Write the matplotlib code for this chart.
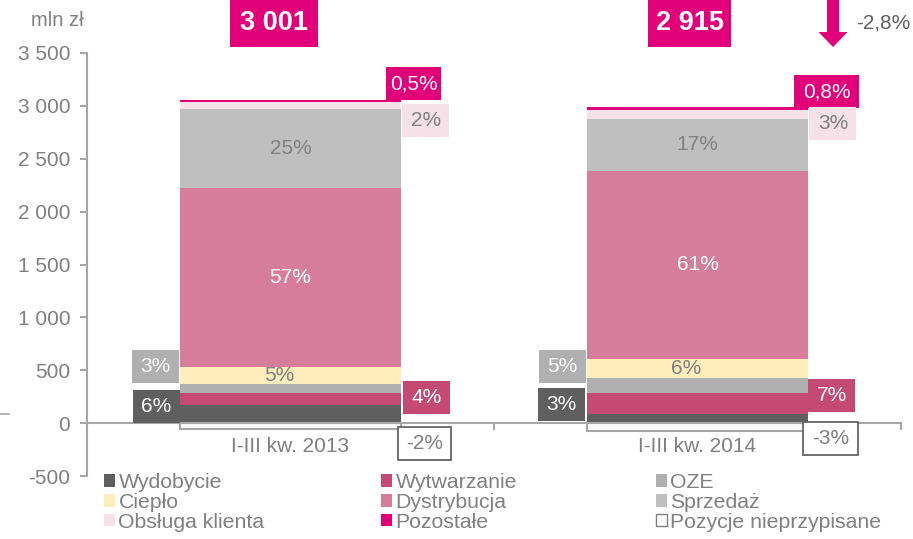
import matplotlib.pyplot as plt
from matplotlib.patches import FancyArrow, Patch
from matplotlib.lines import Line2D
from matplotlib.path import Path
from matplotlib.ticker import FuncFormatter
import numpy as np

plt.rcParams['font.family'] = ['Liberation Sans', 'DejaVu Sans']

# data (mln zł)
categories = ['I-III kw. 2013', 'I-III kw. 2014']
segments = ['Wydobycie', 'Wytwarzanie', 'OZE', 'Ciepło', 'Dystrybucja',
            'Sprzedaż', 'Obsługa klienta', 'Pozostałe']
wydobycie = [170, 85]
wytwarzanie = [115, 204]
oze = [85, 140]
cieplo = [165, 180]
dystrybucja = [1690, 1775]
sprzedaz = [747, 495]
obsluga = [69, 85]
pozostale = [19, 23]
nieprzypisane = [-59, -72]
totals = ['3 001', '2 915']
change = '-2,8%'
shares_2013 = ['6%', '4%', '3%', '5%', '57%', '25%', '2%', '0,5%', '-2%']
shares_2014 = ['3%', '7%', '5%', '6%', '61%', '17%', '3%', '0,8%', '-3%']

colors = ['#5f5f5f', '#c44a74', '#b0b0b0', '#ffeebb', '#d67d9c',
          '#bfbfbf', '#f5e1e8', '#e2007a']
GRAY = '#808080'
AX = '#a6a6a6'
MAGENTA = '#e2007a'
FS = 15

fig = plt.figure(figsize=(9.13, 5.39), dpi=100)
ax = fig.add_axes([87 / 913, 1 - 476 / 539, 814 / 913, 423 / 539])

x = np.arange(len(categories))
w = 0.545
values = [wydobycie, wytwarzanie, oze, cieplo, dystrybucja, sprzedaz, obsluga, pozostale]
bottom = np.zeros(len(categories))
stack = []
for vals, name, c in zip(values, segments, colors):
    ax.bar(x, vals, w, bottom=bottom, color=c, label=name, linewidth=0)
    stack.append((bottom.copy(), np.array(vals)))
    bottom += vals
ax.bar(x, nieprzypisane, w, color='white', edgecolor=AX, linewidth=1.5,
       label='Pozycje nieprzypisane')

ax.set_xlim(-0.5, 1.5)
ax.set_ylim(-500, 3500)
ax.set_yticks(np.arange(-500, 3501, 500))
ax.yaxis.set_major_formatter(FuncFormatter(lambda v, p: f'{int(v):,}'.replace(',', ' ')))
for s in ['top', 'right']:
    ax.spines[s].set_visible(False)
ax.spines['left'].set_color(AX)
ax.spines['left'].set_linewidth(1.5)
ax.spines['bottom'].set_position(('data', 0))
ax.spines['bottom'].set_color(AX)
ax.spines['bottom'].set_linewidth(1.5)
ax.tick_params(axis='y', colors=AX, labelcolor=GRAY, labelsize=FS, length=5, width=1.5, pad=7)
ax.set_xticks(x)
ax.set_xticklabels(categories)
ax.set_xticks([-0.5, 0.5, 1.5], minor=True)
ax.tick_params(axis='x', which='major', length=0, labelcolor=GRAY, labelsize=FS, pad=10)
ax.tick_params(axis='x', which='minor', length=5, width=1.5, colors=AX)

PT = 72 / 100  # px -> points


def fixed_box(W, H):
    # rectangle of fixed pixel size centred on the text
    def style(x0, y0, width, height, mutation_size):
        cx, cy = x0 + width / 2, y0 + height / 2
        return Path([(cx - W / 2, cy - H / 2), (cx + W / 2, cy - H / 2),
                     (cx + W / 2, cy + H / 2), (cx - W / 2, cy + H / 2),
                     (cx - W / 2, cy - H / 2)], closed=True)
    return style


def label_box(xy, text, fc, tc, W, H, dx_px=0, dy_px=0, ec='none', xycoords='data', **kw):
    ax.annotate(text, xy, xycoords=xycoords, xytext=(dx_px * PT, dy_px * PT),
                textcoords='offset points', ha='center', va='center', color=tc,
                fontsize=kw.pop('fontsize', FS),
                bbox=dict(boxstyle=fixed_box(W, H), fc=fc, ec=ec, lw=1.2),
                annotation_clip=False, **kw)


# side labels: (segment index, bar edge, y, px offset of box centre from edge, box width)
side = [
    [(0, -1, 161, -23.5, 47), (2, -1, 539, -24.5, 47), (1, 1, 241, 25.5, 47),
     (8, 1, -194, 23.5, 53), (7, 1, 3210, 12.5, 55), (6, 1, 2860, 24.5, 47)],
    [(2, -1, 534, -24.5, 47), (0, -1, 175, -25.5, 47), (1, 1, 260, 23.5, 47),
     (8, 1, -147, 22.5, 55), (7, 1, 3135, 18.5, 65), (6, 1, 2832, 24.5, 47)],
]
inner = [(3, GRAY, -0.027), (4, 'white', 0), (5, GRAY, 0)]

for i, shares in enumerate([shares_2013, shares_2014]):
    for idx, edge, y, dx, bw in side[i]:
        if idx == 8:
            fc, tc, ec = 'white', GRAY, '#595959'
        else:
            fc, ec = colors[idx], 'none'
            tc = 'white' if idx in (0, 1, 2, 7) else GRAY
        label_box((x[i] + edge * w / 2, y), shares[idx], fc, tc, bw, 33, dx, 0, ec)
    for idx, tc, off in inner:
        b0, v = stack[idx]
        ax.text(x[i] + off, b0[i] + v[i] / 2, shares[idx], ha='center', va='center',
                color=tc, fontsize=FS)

# totals on top
for i, (t, dx, bw) in enumerate(zip(totals, [-17, -8], [88, 83])):
    label_box((x[i], 1), t, MAGENTA, 'white', bw, 47, dx, -23.5,
              xycoords=('data', 'figure fraction'), fontsize=19.5, fontweight='bold')

fig.patches.append(FancyArrow(833 / 913, 1.0, 0, -47 / 539, width=12 / 913,
                              head_width=29 / 913, head_length=15 / 539,
                              length_includes_head=True, color=MAGENTA, lw=0,
                              transform=fig.transFigure, figure=fig))
fig.text(856 / 913, 1 - 23 / 539, change, color='#606060', fontsize=FS, va='center')
fig.text(57 / 913, 1 - 20 / 539, 'mln zł', color=GRAY, fontsize=14.5, va='center', ha='center')
fig.lines.append(Line2D([0, 9 / 913], [1 - 414 / 539] * 2, color=AX, lw=1.2,
                        transform=fig.transFigure, figure=fig))

# legend in three columns
handles, labels = ax.get_legend_handles_labels()
handles[-1] = Patch(fc='white', ec=GRAY, lw=1)
cols = [[0, 3, 6], [1, 4, 7], [2, 5, 8]]
for cx, col in zip([104, 381, 656], cols):
    fig.legend([handles[k] for k in col], [labels[k] for k in col],
               loc='upper left', bbox_to_anchor=(cx / 913, 1 - 473 / 539),
               frameon=False, fontsize=15.3, labelcolor=GRAY, borderpad=0,
               borderaxespad=0, handlelength=0.53, handleheight=0.53,
               handletextpad=0.15, labelspacing=0.04)

fig.savefig('out.png', dpi=100)
